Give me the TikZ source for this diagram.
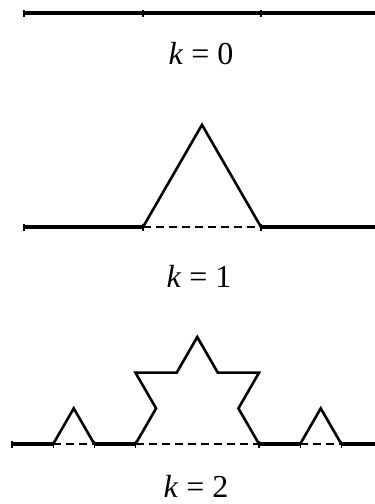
\documentclass[tikz,border=0pt]{standalone}
\usepackage{fontspec}
\setmainfont{Liberation Serif}
\usetikzlibrary{positioning}
\tikzset{
  solidseg/.style={line width=3.2pt,line cap=butt},
  kochseg/.style={line width=2.6pt,line join=miter},
  dashseg/.style={line width=1.4pt,dash pattern=on 8pt off 5pt},
  tickmark/.style={line width=1.2pt},
  stagelabel/.style={font=\fontsize{32}{38}\selectfont,anchor=base,inner sep=0pt}
}

\begin{document}
\begin{tikzpicture}[x=1pt,y=-1pt]
  \useasboundingbox (0,0) rectangle (375,504);
  \def\kstep{41.17}

  \coordinate (a0) at (24,13);
  \coordinate (b0) at (143,13);
  \coordinate (c0) at (261,13);
  \coordinate (d0) at (380,13);
  \draw[solidseg] (a0) -- (d0);
  \foreach \p in {a0,b0,c0}
    \draw[tickmark] ([yshift=3.5pt]\p) -- ([yshift=-3.5pt]\p);
  \node[stagelabel] (lab0) at (201,64) {\textit{k} = 0};

  \coordinate (a1) at (24,227);
  \coordinate (b1) at (143,227);
  \coordinate (c1) at (261,227);
  \coordinate (d1) at (380,227);
  \coordinate (p1) at (202,124.8);
  \draw[solidseg] (a1) -- (b1);
  \draw[solidseg] (c1) -- (d1);
  \draw[dashseg] (b1) -- (c1);
  \draw[kochseg] (b1) -- (p1) -- (c1);
  \foreach \p in {a1,b1,c1}
    \draw[tickmark] ([yshift=3.5pt]\p) -- ([yshift=-3.5pt]\p);
  \node[stagelabel] (lab1) at (199,287) {\textit{k} = 1};

  \coordinate (a2) at (12,444);
  \coordinate (b2) at (53.17,444);
  \coordinate (c2) at (94.33,444);
  \coordinate (d2) at (135.5,444);
  \coordinate (e2) at (259,444);
  \coordinate (f2) at (300.17,444);
  \coordinate (g2) at (341.33,444);
  \coordinate (h2) at (382.5,444);
  \draw[solidseg] (a2) -- (b2) (c2) -- (d2) (e2) -- (f2) (g2) -- (h2);
  \draw[dashseg] (b2) -- (c2) (d2) -- (e2) (f2) -- (g2);
  \draw[kochseg] (b2) -- ++(-60:\kstep) -- (c2);
  \draw[kochseg] (f2) -- ++(-60:\kstep) -- (g2);
  \draw[kochseg] (d2) -- ++(-60:\kstep) -- ++(-120:\kstep) -- ++(0:\kstep)
    -- ++(-60:\kstep) -- ++(60:\kstep) -- ++(0:\kstep) -- ++(120:\kstep) -- (e2);
  \foreach \p in {a2,b2,c2,d2,e2,f2,g2}
    \draw[tickmark] ([yshift=3.5pt]\p) -- ([yshift=-3.5pt]\p);
  \node[stagelabel] (lab2) at (196,497) {\textit{k} = 2};
\end{tikzpicture}
\end{document}
